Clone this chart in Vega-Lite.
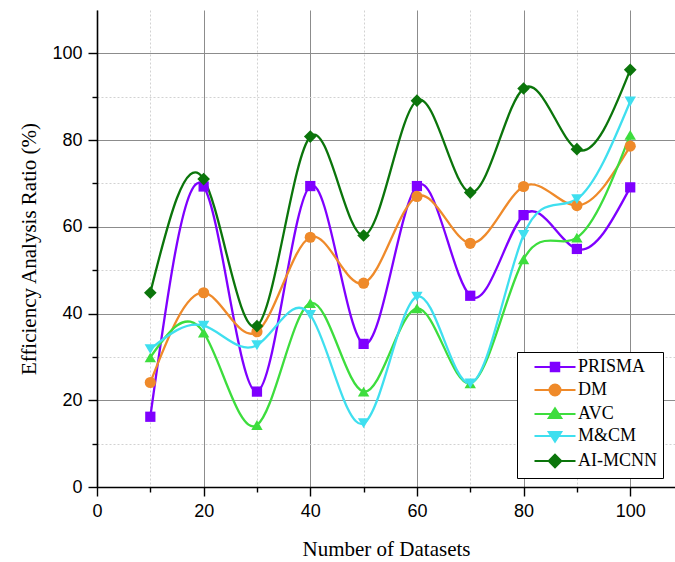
{
  "$schema": "https://vega.github.io/schema/vega-lite/v6.json",
  "autosize": {"type": "none"},
  "padding": {"left": 97, "top": 10, "right": 0, "bottom": 75},
  "width": 578,
  "height": 477,
  "background": "white",
  "config": {
    "view": {"stroke": null},
    "axis": {
      "domainColor": "black",
      "domainWidth": 1.6,
      "tickColor": "black",
      "tickWidth": 1.4,
      "labelFont": "Liberation Sans",
      "labelFontSize": 18,
      "labelColor": "black",
      "titleFont": "Liberation Serif",
      "titleFontSize": 21,
      "titleFontWeight": "normal",
      "titleColor": "black",
      "gridWidth": 1
    }
  },
  "data": {
    "values": [
      {"x": 10, "series": "PRISMA", "y": 16.2},
      {"x": 20, "series": "PRISMA", "y": 69.3},
      {"x": 30, "series": "PRISMA", "y": 22.0},
      {"x": 40, "series": "PRISMA", "y": 69.4},
      {"x": 50, "series": "PRISMA", "y": 33.0},
      {"x": 60, "series": "PRISMA", "y": 69.4},
      {"x": 70, "series": "PRISMA", "y": 44.1},
      {"x": 80, "series": "PRISMA", "y": 62.7},
      {"x": 90, "series": "PRISMA", "y": 54.9},
      {"x": 100, "series": "PRISMA", "y": 69.1},
      {"x": 10, "series": "DM", "y": 24.1},
      {"x": 20, "series": "DM", "y": 44.8},
      {"x": 30, "series": "DM", "y": 35.8},
      {"x": 40, "series": "DM", "y": 57.6},
      {"x": 50, "series": "DM", "y": 47.0},
      {"x": 60, "series": "DM", "y": 67.0},
      {"x": 70, "series": "DM", "y": 56.2},
      {"x": 80, "series": "DM", "y": 69.3},
      {"x": 90, "series": "DM", "y": 64.9},
      {"x": 100, "series": "DM", "y": 78.6},
      {"x": 10, "series": "AVC", "y": 29.9},
      {"x": 20, "series": "AVC", "y": 35.6},
      {"x": 30, "series": "AVC", "y": 14.3},
      {"x": 40, "series": "AVC", "y": 42.4},
      {"x": 50, "series": "AVC", "y": 22.0},
      {"x": 60, "series": "AVC", "y": 41.2},
      {"x": 70, "series": "AVC", "y": 23.9},
      {"x": 80, "series": "AVC", "y": 52.5},
      {"x": 90, "series": "AVC", "y": 57.5},
      {"x": 100, "series": "AVC", "y": 81.2},
      {"x": 10, "series": "M&CM", "y": 31.8},
      {"x": 20, "series": "M&CM", "y": 37.2},
      {"x": 30, "series": "M&CM", "y": 32.7},
      {"x": 40, "series": "M&CM", "y": 39.7},
      {"x": 50, "series": "M&CM", "y": 14.7},
      {"x": 60, "series": "M&CM", "y": 43.9},
      {"x": 70, "series": "M&CM", "y": 23.9},
      {"x": 80, "series": "M&CM", "y": 58.1},
      {"x": 90, "series": "M&CM", "y": 66.4},
      {"x": 100, "series": "M&CM", "y": 88.9},
      {"x": 10, "series": "AI-MCNN", "y": 44.8},
      {"x": 20, "series": "AI-MCNN", "y": 71.0},
      {"x": 30, "series": "AI-MCNN", "y": 37.1},
      {"x": 40, "series": "AI-MCNN", "y": 80.8},
      {"x": 50, "series": "AI-MCNN", "y": 58.0},
      {"x": 60, "series": "AI-MCNN", "y": 89.1},
      {"x": 70, "series": "AI-MCNN", "y": 67.9},
      {"x": 80, "series": "AI-MCNN", "y": 91.9},
      {"x": 90, "series": "AI-MCNN", "y": 77.9},
      {"x": 100, "series": "AI-MCNN", "y": 96.2}
    ]
  },
  "encoding": {
    "x": {
      "field": "x",
      "type": "quantitative",
      "scale": {"domain": [0, 108.4], "nice": false, "zero": false},
      "axis": {
        "title": "Number of Datasets",
        "values": [0, 10, 20, 30, 40, 50, 60, 70, 80, 90, 100],
        "labelExpr": "datum.value % 20 === 0 ? datum.label : ''",
        "labelPadding": 6,
        "labelFlush": false,
        "titlePadding": 18,
        "grid": true,
        "gridColor": {"condition": {"test": "datum.value % 20 === 0", "value": "#8c8c8c"}, "value": "#d2d2d2"},
        "gridDash": {"condition": {"test": "datum.value % 20 === 0", "value": []}, "value": [2, 2]},
        "tickSize": {"condition": {"test": "datum.value % 20 === 0", "value": 9}, "value": 5}
      }
    },
    "y": {
      "field": "y",
      "type": "quantitative",
      "scale": {"domain": [0, 110], "nice": false},
      "axis": {
        "title": "Efficiency Analysis Ratio (%)",
        "values": [0, 10, 20, 30, 40, 50, 60, 70, 80, 90, 100],
        "labelExpr": "datum.value % 20 === 0 ? datum.label : ''",
        "labelPadding": 6,
        "labelFlush": false,
        "titlePadding": 12,
        "grid": true,
        "gridColor": {"condition": {"test": "datum.value % 20 === 0", "value": "#8c8c8c"}, "value": "#d2d2d2"},
        "gridDash": {"condition": {"test": "datum.value % 20 === 0", "value": []}, "value": [2, 2]},
        "tickSize": {"condition": {"test": "datum.value % 20 === 0", "value": 9}, "value": 5}
      }
    }
  },
  "layer": [
    {
      "mark": {"type": "line", "interpolate": "natural", "strokeWidth": 2.3},
      "encoding": {
        "detail": {"field": "series"},
        "stroke": {
          "field": "series", "type": "nominal", "sort": null,
          "scale": {"domain": ["PRISMA", "DM", "AVC", "M&CM", "AI-MCNN"], "range": ["#7f00ff", "#ef8a2a", "#3ddd3d", "#3fdfef", "#0b750b"]},
          "legend": {
            "title": null, "orient": "none", "legendX": 420, "legendY": 342,
            "strokeColor": "black", "fillColor": "white", "padding": 6,
            "labelFont": "Liberation Serif", "labelFontSize": 18, "labelColor": "black",
            "symbolSize": 100, "symbolStrokeWidth": 2, "symbolOffset": 23, "labelOffset": 14, "rowPadding": 4, "symbolOpacity": 1
          }
        }
      }
    },
    {
      "transform": [{"filter": "datum.series === 'PRISMA'"}],
      "mark": {"type": "point", "filled": true, "opacity": 1, "size": 105, "shape": "square", "color": "#7f00ff"}
    },
    {
      "transform": [{"filter": "datum.series === 'DM'"}],
      "mark": {"type": "point", "filled": true, "opacity": 1, "size": 125, "shape": "circle", "color": "#ef8a2a"}
    },
    {
      "transform": [{"filter": "datum.series === 'AVC'"}],
      "mark": {"type": "point", "filled": true, "opacity": 1, "size": 130, "shape": "triangle-up", "color": "#3ddd3d"}
    },
    {
      "transform": [{"filter": "datum.series === 'M&CM'"}],
      "mark": {"type": "point", "filled": true, "opacity": 1, "size": 130, "shape": "triangle-down", "color": "#3fdfef"}
    },
    {
      "transform": [{"filter": "datum.series === 'AI-MCNN'"}],
      "mark": {"type": "point", "filled": true, "opacity": 1, "size": 160, "shape": "diamond", "color": "#0b750b"}
    },
    {
      "mark": {"type": "point", "filled": true, "opacity": 1, "size": 0},
      "encoding": {
        "color": {
          "field": "series", "type": "nominal", "sort": null,
          "scale": {"domain": ["PRISMA", "DM", "AVC", "M&CM", "AI-MCNN"], "range": ["#7f00ff", "#ef8a2a", "#3ddd3d", "#3fdfef", "#0b750b"]},
          "legend": {
            "title": null, "orient": "none", "legendX": 420, "legendY": 342,
            "strokeColor": "black", "fillColor": "white", "padding": 6,
            "labelFont": "Liberation Serif", "labelFontSize": 18, "labelColor": "black",
            "symbolSize": 100, "symbolStrokeWidth": 2, "symbolOffset": 23, "labelOffset": 14, "rowPadding": 4, "symbolOpacity": 1
          }
        },
        "stroke": {
          "field": "series", "type": "nominal", "sort": null,
          "scale": {"domain": ["PRISMA", "DM", "AVC", "M&CM", "AI-MCNN"], "range": ["#7f00ff", "#ef8a2a", "#3ddd3d", "#3fdfef", "#0b750b"]},
          "legend": {
            "title": null, "orient": "none", "legendX": 420, "legendY": 342,
            "strokeColor": "black", "fillColor": "white", "padding": 6,
            "labelFont": "Liberation Serif", "labelFontSize": 18, "labelColor": "black",
            "symbolSize": 100, "symbolStrokeWidth": 2, "symbolOffset": 23, "labelOffset": 14, "rowPadding": 4, "symbolOpacity": 1
          }
        },
        "shape": {
          "field": "series", "type": "nominal", "sort": null,
          "scale": {
            "domain": ["PRISMA", "DM", "AVC", "M&CM", "AI-MCNN"],
            "range": [
              "M-4.1,0H4.1M-0.85,-0.85H0.85V0.85H-0.85Z",
              "M-4.1,0H4.1M-1.1,0A1.1,1.1,0,1,1,1.1,0A1.1,1.1,0,1,1,-1.1,0Z",
              "M-4.1,0H4.1M-1.25,0.8L0,-1.15L1.25,0.8Z",
              "M-4.1,0H4.1M-1.25,-0.8L0,1.15L1.25,-0.8Z",
              "M-4.1,0H4.1M0,-1.25L1.25,0L0,1.25L-1.25,0Z"
            ]
          },
          "legend": {
            "title": null, "orient": "none", "legendX": 420, "legendY": 342,
            "strokeColor": "black", "fillColor": "white", "padding": 6,
            "labelFont": "Liberation Serif", "labelFontSize": 18, "labelColor": "black",
            "symbolSize": 100, "symbolStrokeWidth": 2, "symbolOffset": 23, "labelOffset": 14, "rowPadding": 4, "symbolOpacity": 1
          }
        }
      }
    }
  ]
}
